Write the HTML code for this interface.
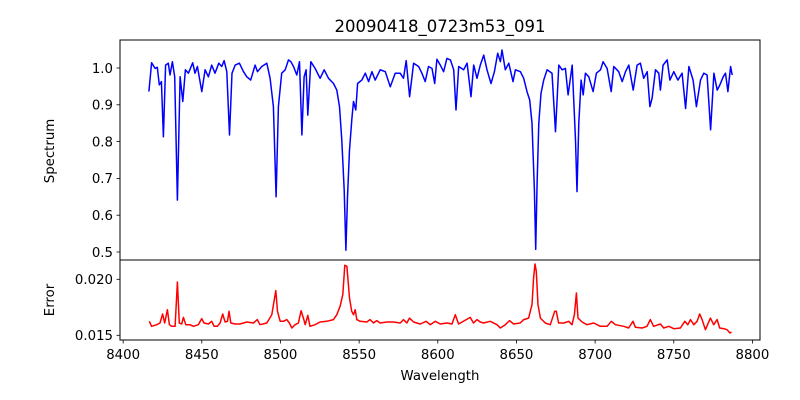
<!DOCTYPE html>
<html><head><meta charset="utf-8">
<style>
html,body{margin:0;padding:0;background:#fff;}
svg{display:block;font-family:"DejaVu Sans","Liberation Sans",sans-serif;}
</style></head>
<body>
<svg id="chart" width="800" height="400" viewBox="0 0 800 400"></svg>
<script>
const specWave = [8416.4,8418.1,8420.3,8421.7,8423.0,8424.3,8425.6,8427.0,8428.7,8429.8,8431.3,8432.8,8434.5,8436.2,8437.9,8439.6,8441.5,8444.2,8445.7,8447.2,8450.0,8452.1,8454.2,8456.3,8458.4,8460.8,8462.7,8464.2,8465.9,8467.6,8469.2,8471.2,8473.9,8476.5,8478.6,8481.1,8483.9,8485.4,8488.1,8491.3,8493.4,8495.5,8497.2,8498.7,8500.8,8503.0,8505.1,8506.6,8508.3,8510.4,8512.1,8513.6,8515.0,8516.3,8517.4,8519.3,8522.0,8525.2,8527.8,8530.5,8533.7,8535.8,8537.5,8539.0,8540.5,8541.6,8542.6,8543.9,8545.4,8546.4,8547.9,8549.0,8551.7,8553.9,8556.0,8558.1,8560.2,8563.4,8566.6,8569.8,8572.9,8576.1,8578.2,8579.9,8582.1,8584.6,8587.8,8589.9,8592.0,8594.1,8596.3,8598.0,8599.4,8601.6,8603.7,8605.8,8608.0,8610.1,8611.6,8613.3,8616.4,8618.6,8621.1,8622.8,8624.9,8627.0,8629.2,8631.3,8633.8,8636.0,8638.1,8639.8,8640.8,8642.9,8645.1,8647.8,8649.3,8652.5,8654.6,8656.7,8658.4,8659.9,8661.4,8662.2,8663.1,8664.2,8665.6,8667.3,8669.5,8672.6,8674.8,8676.9,8679.0,8681.1,8682.8,8685.4,8687.5,8688.5,8689.6,8691.1,8692.4,8693.8,8696.0,8698.7,8700.8,8703.4,8705.1,8707.6,8710.2,8711.9,8715.0,8717.2,8719.3,8721.4,8724.2,8726.7,8728.8,8730.9,8733.1,8734.8,8736.2,8738.4,8740.5,8741.5,8743.2,8745.8,8747.5,8750.0,8752.6,8755.3,8757.5,8759.6,8762.3,8764.4,8767.0,8769.1,8771.2,8773.4,8775.5,8777.6,8779.3,8781.4,8782.9,8784.4,8786.1,8787.1];
const specFlux = [0.936,1.014,0.999,1.002,0.954,0.963,0.813,1.008,1.013,0.981,1.017,0.976,0.641,0.976,0.909,0.995,0.986,1.014,0.986,1.004,0.936,0.995,0.976,1.008,0.986,1.013,1.004,1.020,0.990,0.818,0.986,1.008,1.013,0.990,0.976,0.967,1.008,0.990,1.004,1.013,0.972,0.895,0.650,0.895,0.986,0.995,1.022,1.017,1.004,0.981,1.017,0.818,0.976,0.995,0.872,1.017,0.999,0.972,0.995,0.972,0.958,0.940,0.895,0.804,0.668,0.505,0.650,0.777,0.863,0.909,0.886,0.958,0.967,0.986,0.963,0.990,0.967,0.995,0.990,0.949,0.986,0.986,0.972,1.020,0.922,1.013,1.004,0.986,0.963,1.004,0.999,0.958,1.024,1.008,0.990,1.026,1.022,0.995,0.886,1.004,0.995,1.013,0.922,1.008,0.972,1.008,1.035,0.995,0.958,0.990,1.040,1.017,1.049,0.995,1.013,0.963,0.995,0.990,0.972,0.936,0.913,0.850,0.668,0.507,0.687,0.850,0.931,0.967,0.995,0.986,0.827,1.008,0.995,0.999,0.927,1.008,0.804,0.664,0.850,0.967,0.927,0.986,0.976,0.936,0.986,0.995,1.017,0.999,0.936,1.004,0.990,0.963,0.990,1.008,0.940,1.008,1.013,0.972,0.990,0.895,0.918,0.995,0.986,0.940,1.008,1.022,0.967,0.990,0.967,0.986,0.890,1.004,0.967,0.895,0.967,0.986,0.981,0.832,0.986,0.940,0.954,0.976,0.986,0.936,1.004,0.981];
const errWave = [8416.6,8418.1,8421.3,8423.4,8425.1,8426.4,8428.1,8429.4,8430.8,8433.0,8434.5,8435.7,8437.2,8438.3,8439.8,8442.5,8444.6,8447.8,8449.9,8451.4,8454.2,8456.3,8457.8,8459.9,8461.6,8463.3,8464.8,8466.3,8467.3,8468.4,8471.1,8474.3,8478.6,8482.8,8485.3,8487.0,8491.3,8494.5,8495.9,8497.0,8498.1,8499.8,8501.9,8504.0,8505.7,8507.2,8509.3,8511.4,8513.1,8514.6,8515.7,8517.4,8518.8,8522.0,8525.2,8529.4,8533.7,8535.8,8537.9,8539.6,8540.9,8542.2,8543.9,8545.3,8546.4,8547.5,8548.5,8550.6,8554.9,8557.0,8559.1,8561.2,8563.4,8567.6,8571.9,8576.1,8578.2,8580.3,8582.0,8584.6,8588.8,8592.6,8595.2,8598.4,8601.5,8605.8,8609.0,8611.1,8613.2,8620.6,8622.7,8624.9,8627.0,8629.1,8633.3,8637.6,8639.7,8642.9,8645.6,8648.2,8652.4,8654.6,8657.7,8659.9,8660.9,8661.8,8662.6,8663.7,8665.2,8668.3,8671.5,8674.3,8675.3,8676.8,8680.0,8683.2,8685.3,8686.8,8688.1,8689.1,8691.7,8694.8,8699.1,8703.3,8707.6,8710.3,8712.9,8718.2,8721.3,8724.1,8725.6,8729.8,8733.0,8735.1,8737.2,8741.5,8743.6,8746.8,8750.0,8754.2,8757.0,8758.9,8760.6,8762.7,8764.8,8766.5,8768.0,8770.1,8773.3,8775.4,8777.5,8779.2,8781.8,8783.9,8785.6,8786.7];
const errVal = [0.01625,0.0158,0.01595,0.0161,0.0169,0.0161,0.01729,0.01595,0.0158,0.0158,0.01976,0.0161,0.01601,0.0166,0.01595,0.01595,0.0158,0.01595,0.01649,0.0161,0.01601,0.01625,0.0158,0.0158,0.0161,0.0169,0.01619,0.01625,0.01714,0.0161,0.01601,0.01601,0.01619,0.0161,0.0164,0.01595,0.0161,0.01684,0.01803,0.01899,0.01714,0.01625,0.01625,0.0164,0.0161,0.01565,0.01595,0.0161,0.0172,0.01654,0.01595,0.01678,0.0158,0.01595,0.01619,0.01625,0.0164,0.01684,0.01759,0.01863,0.02125,0.02116,0.01833,0.01714,0.01684,0.01729,0.0164,0.01625,0.01619,0.0164,0.0161,0.01631,0.0161,0.01619,0.01619,0.0161,0.0164,0.0161,0.01654,0.01619,0.01601,0.01625,0.01595,0.01625,0.01601,0.0161,0.01601,0.01684,0.01601,0.0166,0.0161,0.0164,0.01619,0.0161,0.01625,0.01595,0.01565,0.01595,0.01631,0.01601,0.0161,0.0164,0.01654,0.01773,0.02012,0.02137,0.02071,0.01773,0.01654,0.0161,0.01595,0.01714,0.01714,0.0161,0.0161,0.01625,0.01595,0.01684,0.01878,0.01654,0.01619,0.01595,0.0161,0.0158,0.0158,0.01625,0.01595,0.0158,0.01565,0.01625,0.01571,0.01565,0.0158,0.0164,0.0158,0.01601,0.01565,0.0158,0.01559,0.01565,0.01625,0.01595,0.0164,0.01595,0.01625,0.0169,0.0164,0.0155,0.01654,0.01595,0.0164,0.01565,0.01559,0.0155,0.01521,0.01529];
const xTicks = [8400,8450,8500,8550,8600,8650,8700,8750,8800];
const specTicks = [0.5,0.6,0.7,0.8,0.9,1.0];
const specTickLabels = ["0.5","0.6","0.7","0.8","0.9","1.0"];
const errTicks = [0.015,0.020];
const errTickLabels = ["0.015","0.020"];

const NS = "http://www.w3.org/2000/svg";
const svg = document.getElementById('chart');
const X0 = 120, X1 = 760, W0 = 8398, W1 = 8804.8;
function xs(w){ return X0 + (w - W0) / (W1 - W0) * (X1 - X0); }
function ysTop(v){ return 68 + (1.0 - v) * 368; }
function ysBot(v){ return 335.3 - (v - 0.015) / 0.005 * 56; }
function mk(tag, attrs){ const e = document.createElementNS(NS, tag); for (const k in attrs) e.setAttribute(k, attrs[k]); svg.appendChild(e); return e; }

// title
const title = mk('text', {x: 440, y: 32, 'text-anchor': 'middle', 'font-size': '16.5', fill: '#000'});
title.textContent = '20090418_0723m53_091';



// spectrum line
let d = '';
specWave.forEach((w, i) => { d += (i ? 'L' : 'M') + xs(w).toFixed(1) + ' ' + ysTop(specFlux[i]).toFixed(1); });
const sl = mk('path', {d: d, fill: 'none', stroke: '#0000ff', 'stroke-width': '1.5', 'stroke-linejoin': 'round'});



// error line
let d2 = '';
errWave.forEach((w, i) => { d2 += (i ? 'L' : 'M') + xs(w).toFixed(1) + ' ' + ysBot(errVal[i]).toFixed(1); });
const el = mk('path', {d: d2, fill: 'none', stroke: '#ff0000', 'stroke-width': '1.5', 'stroke-linejoin': 'round'});



// axes frames
const f1 = mk('rect', {x: 120, y: 40, width: 640, height: 220, fill: 'none', stroke: '#000', 'stroke-width': '1'});


const f2 = mk('rect', {x: 120, y: 260, width: 640, height: 80, fill: 'none', stroke: '#000', 'stroke-width': '1'});



// x ticks
xTicks.forEach(t => {
  const x = xs(t);
  mk('line', {x1: x, y1: 340, x2: x, y2: 343.5, stroke: '#000', 'stroke-width': '0.8'});
  const lb = mk('text', {x: x, y: 359, 'text-anchor': 'middle', 'font-size': '13.3', fill: '#000'});
  lb.textContent = String(t);
  
  
});
specTicks.forEach((t, i) => {
  const y = ysTop(t);
  mk('line', {x1: 116.5, y1: y, x2: 120, y2: y, stroke: '#000', 'stroke-width': '0.8'});
  const lb = mk('text', {x: 113, y: y + 4.8, 'text-anchor': 'end', 'font-size': '13.3', fill: '#000'});
  lb.textContent = specTickLabels[i];
  
  
});
errTicks.forEach((t, i) => {
  const y = ysBot(t);
  mk('line', {x1: 116.5, y1: y, x2: 120, y2: y, stroke: '#000', 'stroke-width': '0.8'});
  const lb = mk('text', {x: 113, y: y + 4.8, 'text-anchor': 'end', 'font-size': '13.3', fill: '#000'});
  lb.textContent = errTickLabels[i];
  
  
});

const yl1 = mk('text', {x: 0, y: 0, transform: 'translate(54,151) rotate(-90)', 'text-anchor': 'middle', 'font-size': '13.3', fill: '#000'});
yl1.textContent = 'Spectrum';


const yl2 = mk('text', {x: 0, y: 0, transform: 'translate(54,300) rotate(-90)', 'text-anchor': 'middle', 'font-size': '13.3', fill: '#000'});
yl2.textContent = 'Error';


const xl = mk('text', {x: 440, y: 380, 'text-anchor': 'middle', 'font-size': '13.3', fill: '#000'});
xl.textContent = 'Wavelength';


</script>
</body></html>
